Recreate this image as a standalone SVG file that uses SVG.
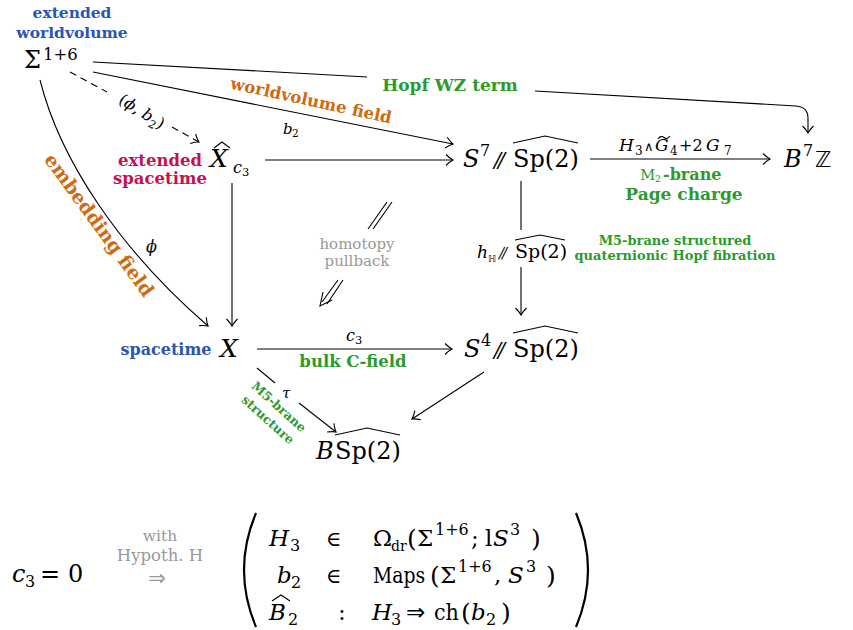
<svg xmlns="http://www.w3.org/2000/svg" width="853" height="630" viewBox="0 0 853 630">
<defs>
<style>
.m{font-family:'DejaVu Serif',serif;fill:#000}
.i{font-style:italic}
.lb{font-family:'DejaVu Serif',serif;font-weight:bold}
.blue{fill:#2a56b3}
.red{fill:#c8104f}
.org{fill:#d06a10}
.grn{fill:#2c9a2c}
.gry{fill:#999999;font-family:'DejaVu Serif',serif}
.sym{font-family:'DejaVu Sans',sans-serif}
.ln{fill:none;stroke:#000;stroke-width:1.1}
.hat{fill:none;stroke:#000;stroke-width:1.1}
</style>
<marker id="ah" markerWidth="14" markerHeight="14" refX="11" refY="7" orient="auto" markerUnits="userSpaceOnUse">
<path d="M4,1.5 Q8,5.5 11,7 Q8,8.5 4,12.5" fill="none" stroke="#000" stroke-width="1.1"/>
</marker>
</defs>

<!-- nodes -->
<g id="sigma">
<text class="lb blue" x="72" y="18" font-size="15.5" text-anchor="middle">extended</text>
<text class="lb blue" x="72" y="38" font-size="15.5" text-anchor="middle">worldvolume</text>
<text class="m" x="24" y="68" font-size="24">Σ</text>
<text class="m" x="43" y="60" font-size="16.5">1+6</text>
</g>

<g id="xhat">
<text class="lb red" x="160" y="166" font-size="16.5" text-anchor="middle">extended</text>
<text class="lb red" x="160" y="184" font-size="16.5" text-anchor="middle">spacetime</text>
<text class="m i" x="210" y="167" font-size="25">X</text>
<path class="hat" d="M214,148 L222,142 L230,148"/>
<text class="m i" x="233" y="173" font-size="16">c</text>
<text class="m" x="242" y="176" font-size="11.5">3</text>
</g>

<g id="s7">
<text class="m i" x="463" y="167" font-size="24">S</text>
<text class="m" x="480" y="156" font-size="16">7</text>
<text class="m i" x="494" y="167" font-size="21" letter-spacing="-3">//</text>
<text class="m" x="513" y="167" font-size="24">Sp(2)</text>
<path class="hat" d="M513,143 L545,136 L578,143"/>
</g>

<g id="b7z">
<text class="m i" x="784" y="167" font-size="24">B</text>
<text class="m" x="803" y="156" font-size="16">7</text>
<text class="sym" x="815" y="167" font-size="22">ℤ</text>
</g>

<g id="x">
<text class="lb blue" x="166" y="355" font-size="16" text-anchor="middle">spacetime</text>
<text class="m i" x="220" y="357" font-size="25">X</text>
</g>

<g id="s4">
<text class="m i" x="464" y="357" font-size="24">S</text>
<text class="m" x="481" y="346" font-size="16">4</text>
<text class="m i" x="494" y="357" font-size="21" letter-spacing="-3">//</text>
<text class="m" x="513" y="357" font-size="24">Sp(2)</text>
<path class="hat" d="M513,333 L545,326 L578,333"/>
</g>

<g id="bsp2">
<text class="m i" x="316" y="459" font-size="24">B</text>
<text class="m" x="335" y="459" font-size="24">Sp(2)</text>
<path class="hat" d="M335,435 L367,428 L400,435"/>
</g>

<!-- connectors -->
<g id="connectors">
<!-- Hopf WZ term -->
<path class="ln" d="M93,62 L367,77"/>
<path class="ln" d="M535,91 L796,106 Q808,107 808,118 L808,133" marker-end="url(#ah)"/>
<text class="lb grn" x="450" y="91" font-size="17" text-anchor="middle">Hopf WZ term</text>

<!-- worldvolume field -->
<path class="ln" d="M93,72 L453,144" marker-end="url(#ah)"/>
<text class="lb org" transform="translate(310,106) rotate(12.3)" font-size="16.5" text-anchor="middle">worldvolume field</text>
<text class="m i" x="283" y="134" font-size="15">b</text>
<text class="m" x="292" y="137" font-size="10.5">2</text>

<!-- dashed (phi,b2) -->
<path class="ln" d="M70,72 L107,92" stroke-dasharray="7,5"/>
<path class="ln" d="M172,127 L199,142" stroke-dasharray="7,5" marker-end="url(#ah)"/>
<text class="m" transform="translate(139,116) rotate(32)" font-size="16" text-anchor="middle">(<tspan font-style="italic">ϕ</tspan>, <tspan font-style="italic">b</tspan><tspan font-size="11" dy="4">2</tspan><tspan dy="-4">)</tspan></text>

<!-- embedding field -->
<path class="ln" d="M40,80 C60,160 120,250 208,326" marker-end="url(#ah)"/>
<text class="lb org" transform="translate(94,229) rotate(54)" font-size="19" text-anchor="middle">embedding field</text>
<text class="m i" x="146" y="252" font-size="16">ϕ</text>

<!-- Xhat -> S7 -->
<path class="ln" d="M265,160 L453,160" marker-end="url(#ah)"/>

<!-- S7 -> B7Z -->
<path class="ln" d="M590,159 L770,159" marker-end="url(#ah)"/>
<g class="m" font-size="17">
<text class="i" x="619" y="151">H</text>
<text x="635" y="155" font-size="12">3</text>
<text class="sym" x="644" y="151" font-size="13">∧</text>
<text class="i" x="655" y="151">G</text>
<path class="hat" d="M658,139 Q661,135 664,137.5 Q667,140 670,136"/>
<text x="670" y="155" font-size="12">4</text>
<text x="679" y="151" font-size="16">+2</text>
<text class="i" x="706" y="151">G</text>
<text x="724" y="155" font-size="12">7</text>
</g>
<text class="m grn" x="640" y="180" font-size="15">M</text>
<text class="m grn" x="655" y="182" font-size="9.5">2</text>
<text class="lb grn" x="663" y="180" font-size="16">-brane</text>
<text class="lb grn" x="684" y="200" font-size="17" text-anchor="middle">Page charge</text>

<!-- Xhat -> X -->
<path class="ln" d="M232,183 L232,326" marker-end="url(#ah)"/>

<!-- S7 -> S4 -->
<path class="ln" d="M521,181 L521,230"/>
<path class="ln" d="M521,267 L521,315" marker-end="url(#ah)"/>
<text class="m i" x="477" y="258" font-size="17">h</text>
<text class="sym" x="488" y="262" font-size="9.5">ℍ</text>
<text class="m i" x="499" y="258" font-size="15" letter-spacing="-2">//</text>
<text class="m" x="515" y="258" font-size="19">Sp(2)</text>
<path class="hat" d="M515,240 L540,235 L565,240"/>
<text class="lb grn" x="675" y="245" font-size="13" text-anchor="middle">M5-brane structured</text>
<text class="lb grn" x="675" y="260" font-size="13" text-anchor="middle">quaternionic Hopf fibration</text>

<!-- homotopy pullback -->
<path class="ln" d="M368,229 L387,202 M373,229 L392,202"/>
<text class="gry" x="357" y="249" font-size="15" text-anchor="middle">homotopy</text>
<text class="gry" x="357" y="266" font-size="15" text-anchor="middle">pullback</text>
<path class="ln" d="M338,280 L322,302 M343,280 L327,304"/>
<path class="ln" d="M323,292 L320,306 L332,300"/>

<!-- X -> S4 -->
<path class="ln" d="M257,349 L452,349" marker-end="url(#ah)"/>
<text class="m i" x="346" y="341" font-size="16">c</text>
<text class="m" x="355" y="344" font-size="11.5">3</text>
<text class="lb grn" x="353" y="367" font-size="16.5" text-anchor="middle">bulk C-field</text>

<!-- S4 -> BSp2 -->
<path class="ln" d="M484,372 L412,419" marker-end="url(#ah)"/>

<!-- X -> BSp2 tau -->
<path class="ln" d="M257,368 L275,383"/>
<path class="ln" d="M299,403 L336,432" marker-end="url(#ah)"/>
<text class="m i" x="282" y="398" font-size="15">τ</text>
<text class="lb grn" transform="translate(276,410) rotate(42)" font-size="12.5" text-anchor="middle">M5-brane</text>
<text class="lb grn" transform="translate(265,423) rotate(42)" font-size="12.5" text-anchor="middle">structure</text>
</g>

<!-- bottom formula -->
<g id="formula">
<text class="m i" x="12" y="582" font-size="24">c</text>
<text class="m" x="25" y="587" font-size="16">3</text>
<text class="m" x="40" y="582" font-size="24">=</text>
<text class="m" x="68" y="582" font-size="24">0</text>
<text class="gry" x="160" y="541" font-size="15.5" text-anchor="middle">with</text>
<text class="gry" x="160" y="561" font-size="16.5" text-anchor="middle">Hypoth. H</text>
<text class="gry sym" x="157" y="585" font-size="21" text-anchor="middle">⇒</text>
<path d="M256,513 Q232,570 256,627" fill="none" stroke="#000" stroke-width="2.2"/>
<path d="M576,513 Q600,570 576,627" fill="none" stroke="#000" stroke-width="2.2"/>
<!-- row 1 -->
<text class="m i" x="269" y="546" font-size="23">H</text>
<text class="m" x="290" y="551" font-size="16">3</text>
<text class="m" x="326" y="546" font-size="21">∈</text>
<text class="m" x="373" y="546" font-size="23">Ω</text>
<text class="m" x="391" y="551" font-size="14">dr</text>
<text class="m" x="407" y="547" font-size="25">(</text>
<text class="m" x="417" y="546" font-size="23">Σ</text>
<text class="m" x="435" y="535" font-size="16">1+6</text>
<text class="m" x="471" y="546" font-size="23">;</text>
<text class="m" x="485" y="546" font-size="23">l</text>
<text class="m i" x="493" y="546" font-size="23">S</text>
<text class="m" x="510" y="535" font-size="16">3</text>
<text class="m" x="531" y="547" font-size="25">)</text>
<!-- row 2 -->
<text class="m i" x="277" y="583" font-size="23">b</text>
<text class="m" x="291" y="588" font-size="16">2</text>
<text class="m" x="326" y="583" font-size="21">∈</text>
<text class="m" transform="translate(373,583) scale(0.82,1)" font-size="23">Maps</text>
<text class="m" x="430" y="584" font-size="25">(</text>
<text class="m" x="440" y="583" font-size="23">Σ</text>
<text class="m" x="458" y="572" font-size="16">1+6</text>
<text class="m" x="494" y="583" font-size="23">,</text>
<text class="m i" x="508" y="583" font-size="23">S</text>
<text class="m" x="526" y="572" font-size="16">3</text>
<text class="m" x="546" y="584" font-size="25">)</text>
<!-- row 3 -->
<text class="m i" x="269" y="620" font-size="23">B</text>
<path class="hat" d="M272,601 L281,595 L290,601"/>
<text class="m" x="288" y="625" font-size="16">2</text>
<text class="m" x="338" y="620" font-size="23">:</text>
<text class="m i" x="372" y="620" font-size="23">H</text>
<text class="m" x="391" y="625" font-size="16">3</text>
<text class="sym" x="406" y="620" font-size="23">⇒</text>
<text class="m" transform="translate(434,620) scale(0.9,1)" font-size="23">ch</text>
<text class="m" x="461" y="621" font-size="25">(</text>
<text class="m i" x="471" y="620" font-size="23">b</text>
<text class="m" x="486" y="625" font-size="16">2</text>
<text class="m" x="501" y="621" font-size="25">)</text>
</g>
</svg>
